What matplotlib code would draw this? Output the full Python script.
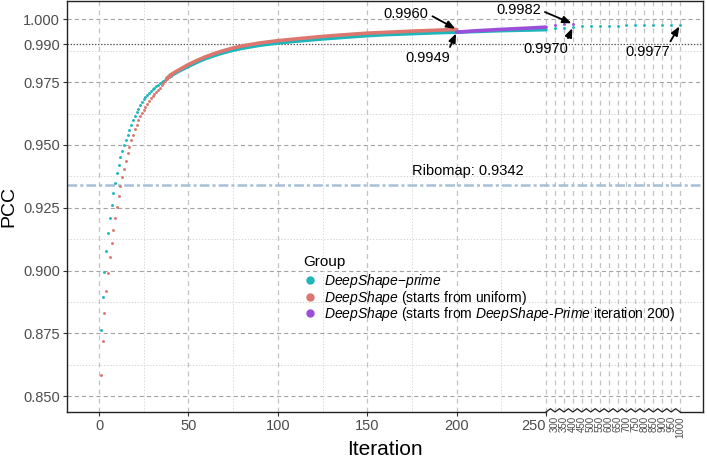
import matplotlib
matplotlib.use("Agg")
import matplotlib.pyplot as plt
from matplotlib.lines import Line2D
import numpy as np

plt.rcParams['font.family'] = ['Liberation Sans', 'DejaVu Sans']
plt.rcParams['mathtext.fontset'] = 'custom'
plt.rcParams['mathtext.rm'] = 'Liberation Sans'
plt.rcParams['mathtext.it'] = 'Liberation Sans:italic'
plt.rcParams['lines.scale_dashes'] = False

# ---- data ----
early_iter = list(range(1, 41))
prime_early = [0.8765, 0.8896, 0.8995, 0.9079, 0.9149, 0.9209, 0.9262, 0.9308, 0.9349, 0.9388,
               0.9421, 0.9451, 0.9476, 0.9498, 0.9519, 0.9541, 0.9561, 0.9580, 0.9598, 0.9614,
               0.9630, 0.9645, 0.9658, 0.9670, 0.9681, 0.9691, 0.9700, 0.9708, 0.9715, 0.9722,
               0.9728, 0.9734, 0.9740, 0.9745, 0.9751, 0.9756, 0.9760, 0.9765, 0.9770, 0.9775]
uniform_early = [0.8583, 0.8719, 0.8830, 0.8918, 0.8990, 0.9052, 0.9108, 0.9160, 0.9209, 0.9254,
                 0.9296, 0.9335, 0.9372, 0.9406, 0.9437, 0.9466, 0.9493, 0.9518, 0.9541, 0.9562,
                 0.9581, 0.9598, 0.9614, 0.9628, 0.9641, 0.9653, 0.9664, 0.9675, 0.9685, 0.9694,
                 0.9703, 0.9712, 0.9720, 0.9728, 0.9740, 0.9748, 0.9756, 0.9764, 0.9772, 0.9779]

prime_iter = [38, 40, 45, 50, 55, 60, 65, 70, 75, 80, 90, 100, 110, 125, 140, 150, 160, 175, 190,
              200, 225, 250]
prime_vals = [0.9765, 0.9775, 0.9795, 0.9813, 0.9830, 0.9845, 0.9857, 0.9868, 0.9877, 0.9885,
              0.9897, 0.9906, 0.9913, 0.9922, 0.9930, 0.9935, 0.9939, 0.9943, 0.9947, 0.9949,
              0.9955, 0.9959]
uniform_iter = [38, 40, 45, 50, 55, 60, 65, 70, 75, 80, 90, 100, 110, 125, 140, 150, 160, 175,
                190, 200]
uniform_vals = [0.9764, 0.9779, 0.9800, 0.9820, 0.9837, 0.9852, 0.9865, 0.9876, 0.9886, 0.9894,
                0.9906, 0.9915, 0.9922, 0.9932, 0.9940, 0.9945, 0.9948, 0.9953, 0.9957, 0.9960]
warm_iter = [200, 210, 225, 240, 250]
warm_vals = [0.9949, 0.9954, 0.9960, 0.9965, 0.9969]

prime_far_iter = list(range(300, 1001, 50))
prime_far_vals = [0.9966, 0.9967, 0.9970, 0.9972, 0.9973, 0.9974, 0.9975, 0.9975, 0.9976,
                  0.9976, 0.9976, 0.9977, 0.9977, 0.9977, 0.9977]
warm_far_iter = [300, 350, 400]
warm_far_vals = [0.9976, 0.9980, 0.9982]

ribomap = 0.9342

y_ticks = [0.850, 0.875, 0.900, 0.925, 0.950, 0.975, 0.990, 1.000]
y_minor = [0.8625, 0.8875, 0.9125, 0.9375, 0.9625, 0.9875]
x_major = [0, 50, 100, 150, 200, 250]
x_minor = [25, 75, 125, 175, 225]
x_far = list(range(300, 1001, 50))

c_prime = '#1db6ba'
c_unif = '#dc766f'
c_warm = '#9b4fd9'


def fwd(x):
    x = np.asarray(x, dtype=float)
    return np.where(x <= 250, x, 250 + (x - 250) / 10.0)


def inv(t):
    t = np.asarray(t, dtype=float)
    return np.where(t <= 250, t, 250 + (t - 250) * 10.0)


x_lo, x_hi = -17.9, 1128

fig = plt.figure(figsize=(7.07, 4.58), dpi=100)
ax = fig.add_axes([67 / 707, 1 - 412 / 458, 636 / 707, 411 / 458])
ax.set_xscale('function', functions=(fwd, inv))
ax.set_xlim(x_lo, x_hi)
ax.set_ylim(0.8437, 1.0073)

# grid
for y in y_ticks:
    if y == 0.990:
        continue
    ax.axhline(y, color='#a3a3a3', lw=0.8, ls=(0, (3, 2.2)), zorder=0)
for y in y_minor:
    ax.axhline(y, color='#d6d6d6', lw=0.7, ls=(0, (1, 1.2)), zorder=0)
for x in x_major + x_far:
    ax.axvline(x, color='#c2c2c2', lw=0.9, ls=(0, (3.5, 3)), zorder=0)
for x in x_minor:
    ax.axvline(x, color='#d9d9d9', lw=0.7, ls=(0, (1, 1.2)), zorder=0)
ax.axhline(0.990, color='#505050', lw=0.9, ls=(0, (1, 1.2)), zorder=1)

ax.axhline(ribomap, color='#a5c0d8', lw=1.8, ls=(0, (7, 2.2, 2.2, 2.2)), zorder=1)
ax.text(206, ribomap + 0.0056, f'Ribomap: {ribomap}', ha='center', va='center', fontsize=10.5)

# series
ms = 2.1
lw = 2.6
ax.plot(early_iter, prime_early, 'o', color=c_prime, ms=ms, mew=0, zorder=3)
ax.plot(prime_iter, prime_vals, '-', color=c_prime, lw=lw, zorder=3, solid_capstyle='round')
ax.plot(prime_far_iter, prime_far_vals, 'o', color=c_prime, ms=ms, mew=0, zorder=3)
ax.plot(early_iter, uniform_early, 'o', color=c_unif, ms=ms, mew=0, zorder=4)
ax.plot(uniform_iter, uniform_vals, '-', color=c_unif, lw=lw, zorder=4, solid_capstyle='round')
ax.plot(warm_iter, warm_vals, '-', color=c_warm, lw=lw, zorder=5, solid_capstyle='round')
ax.plot(warm_far_iter, warm_far_vals, 'o', color=c_warm, ms=ms, mew=0, zorder=5)

# annotations
arrow = dict(arrowstyle='-|>,head_length=0.5,head_width=0.2', color='black', lw=1.3,
             shrinkA=1, shrinkB=1)
notes = [
    (uniform_iter[-1], uniform_vals[-1], 171.7, 1.0021, (1, 0.5)),
    (prime_iter[19], prime_vals[19], 184, 0.9846, (0.95, 1)),
    (warm_far_iter[-1], warm_far_vals[-1], 234.6, 1.0036, (1, 0.5)),
    (prime_far_iter[2], prime_far_vals[2], 250, 0.9881, (0.95, 1)),
    (prime_far_iter[-1], prime_far_vals[-1], 820, 0.9869, (0.95, 1)),
]
for xv, yv, tx, ty, rp in notes:
    ax.annotate(f'{yv:.4f}', xy=(xv, yv), xytext=(tx, ty), ha='center', va='center',
                fontsize=10.5, arrowprops=dict(arrow, relpos=rp), zorder=6)

# axes, ticks
ax.set_yticks(y_ticks)
ax.set_yticklabels([f'{v:.3f}' for v in y_ticks])
ax.set_xticks(x_major)
ax.set_xticklabels([str(v) for v in x_major])
ax.set_xticks(x_far, minor=True)
ax.set_xticklabels([str(v) for v in x_far], minor=True, rotation=90, fontsize=7,
                   color='#4d4d4d')
ax.get_xticklabels()[-1].set_ha('right')
ax.tick_params(axis='both', which='major', labelsize=10.5, labelcolor='#4d4d4d',
               length=3, width=0.8, color='#333333', pad=2)
ax.tick_params(axis='x', which='minor', length=0, pad=3)
ax.tick_params(axis='y', which='minor', left=False)

for s in ['left', 'top', 'right']:
    ax.spines[s].set_linewidth(1.0)
    ax.spines[s].set_color('#222222')
ax.spines['bottom'].set_visible(False)

# bottom axis line with a zigzag over the compressed part
trans = ax.get_xaxis_transform()
zz_x = np.arange(250, 1001, 25)
zz_y = np.where(np.arange(len(zz_x)) % 2 == 0, 0.0, 0.008)
ax.plot([x_lo, 250], [0, 0], color='#222222', lw=1.0, transform=trans, clip_on=False, zorder=7)
ax.plot(zz_x, zz_y, color='#222222', lw=0.9, transform=trans, clip_on=False, zorder=7)
ax.plot([1000, x_hi], [0, 0], color='#222222', lw=1.0, transform=trans, clip_on=False, zorder=7)

ax.set_xlabel('Iteration', fontsize=15, labelpad=2)
ax.set_ylabel('PCC', fontsize=14, labelpad=4)

# legend
fig.text(303 / 707, 1 - 262 / 458, 'Group', fontsize=11, va='center', ha='left')
handles = [Line2D([], [], marker='o', ls='', color=c, ms=5) for c in (c_prime, c_unif, c_warm)]
labels = [r'$\mathit{DeepShape}$' + '\u2212' + r'$\mathit{prime}$',
          r'$\mathit{DeepShape}$ (starts from uniform)',
          r'$\mathit{DeepShape}$ (starts from $\mathit{DeepShape}$-$\mathit{Prime}$ iteration 200)']
fig.legend(handles, labels, loc='upper left',
           bbox_to_anchor=(302 / 707, 1 - 272 / 458), frameon=False, fontsize=10,
           handletextpad=0.4, labelspacing=-0.1,
           borderpad=0, handlelength=1.2, borderaxespad=0)

fig.savefig('out.png', dpi=100)
